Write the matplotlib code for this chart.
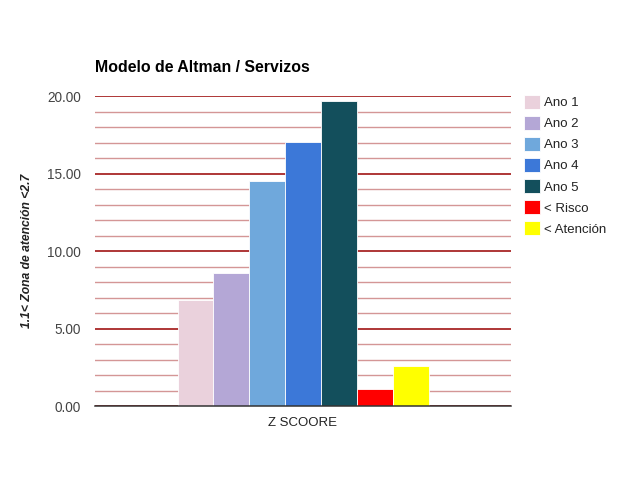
import matplotlib
matplotlib.use("Agg")
import matplotlib.pyplot as plt
from matplotlib.ticker import MultipleLocator, FormatStrFormatter

plt.rcParams['font.family'] = ['Liberation Sans', 'DejaVu Sans']

categories = ["Z SCOORE"]
series = ["Ano 1", "Ano 2", "Ano 3", "Ano 4", "Ano 5", "< Risco", "< Atención"]
values = [6.85, 8.6, 14.5, 17.05, 19.7, 1.1, 2.6]
colors = ["#ead1dc", "#b4a7d6", "#6fa8dc", "#3c78d8", "#134f5c", "#ff0000", "#ffff00"]

W, H = 643, 498
fig = plt.figure(figsize=(W / 100, H / 100), dpi=100)
ax = fig.add_axes([95 / W, (H - 406) / H, (511 - 95) / W, (406 - 96) / H])

group = 251 / 416
slot = group / len(series)
handles = []
for i, (name, v, c) in enumerate(zip(series, values, colors)):
    x = 0 - group / 2 + slot * (i + 0.5)
    b = ax.bar(x, v, width=slot, color=c, edgecolor="white", linewidth=0.6, label=name, zorder=3)
    handles.append(b)

ax.set_xlim(-0.5, 0.5)
ax.set_ylim(0, 20)
ax.set_xticks([0])
ax.set_xticklabels(categories, fontsize=9.5, color="#222222")
ax.tick_params(axis="x", length=0, pad=8)
ax.yaxis.set_major_locator(MultipleLocator(5))
ax.yaxis.set_minor_locator(MultipleLocator(1))
ax.yaxis.set_major_formatter(FormatStrFormatter("%.2f"))
ax.tick_params(axis="y", which="both", length=0, labelsize=9.8, labelcolor="#444444", pad=10)
ax.grid(axis="y", which="minor", color="#d49696", linewidth=1, zorder=1)
ax.grid(axis="y", which="major", color="#990000", linewidth=1.1, zorder=2)
for s in ["top", "right", "left"]:
    ax.spines[s].set_visible(False)
ax.spines["bottom"].set_color("#333333")
ax.spines["bottom"].set_linewidth(1.1)
ax.spines["bottom"].set_zorder(4)

fig.text(95 / W, 1 - 68 / H, "Modelo de Altman / Servizos", fontsize=11.4, fontweight="bold",
         va="center", ha="left", color="#000000")
fig.text(27 / W, 1 - 251 / H, "1.1< Zona de atención <2.7", fontsize=8.7, fontweight="bold",
         fontstyle="italic", rotation=90, va="center", ha="center", color="#222222")

leg = ax.legend(handles=handles, loc="upper left", bbox_to_anchor=(524 / W, 1 - 95 / H),
                bbox_transform=fig.transFigure, frameon=False, fontsize=9.5,
                handlelength=1.2, handleheight=1.2, handletextpad=0.3, labelspacing=0.52,
                borderaxespad=0, borderpad=0)
for t in leg.get_texts():
    t.set_color("#222222")

fig.savefig("out.png", dpi=100)
